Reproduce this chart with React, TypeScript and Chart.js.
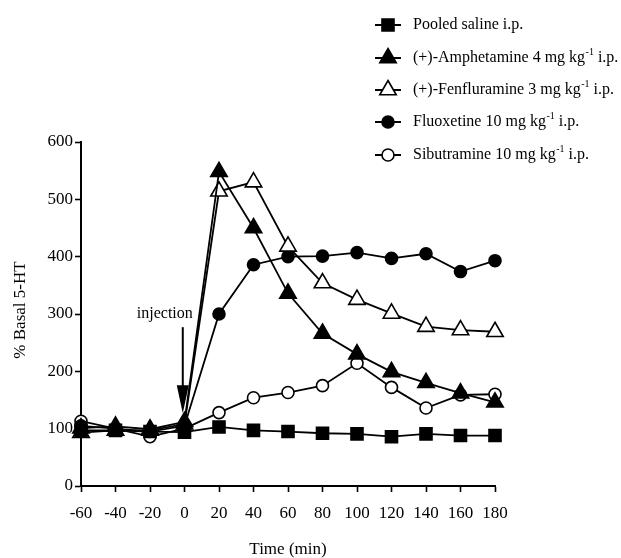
import React, { useEffect, useRef } from "react";
import { Chart, registerables } from "chart.js";

Chart.register(...registerables);

const times = [-60, -40, -20, 0, 20, 40, 60, 80, 100, 120, 140, 160, 180];
const saline = [97, 97, 95, 94, 103, 97, 95, 92, 91, 86, 91, 88, 88];
const amphetamine = [101, 104, 99, 112, 548, 450, 336, 266, 230, 199, 180, 162, 146];
const fenfluramine = [93, 97, 97, 108, 514, 530, 418, 354, 325, 301, 278, 272, 269];
const fluoxetine = [105, 100, 95, 105, 300, 386, 400, 401, 407, 397, 405, 374, 393];
const sibutramine = [113, 100, 86, 100, 128, 154, 163, 175, 214, 172, 136, 159, 160];

const seriesLabels = [
  "Pooled saline i.p.",
  "(+)-Amphetamine 4 mg kg^-1 i.p.",
  "(+)-Fenfluramine 3 mg kg^-1 i.p.",
  "Fluoxetine 10 mg kg^-1 i.p.",
  "Sibutramine 10 mg kg^-1 i.p.",
];
const xTitle = "Time (min)";
const yTitle = "% Basal 5-HT";
const injectionLabel = "injection";
const injectionTime = -1;
const arrowFrom = 277;
const arrowTo = 127;

const FONT = '"Liberation Serif", "Times New Roman", serif';

type Marker = { style: string; fill: boolean; r: number };
const markers: Marker[] = [
  { style: "rect", fill: true, r: 8.5 },
  { style: "triangle", fill: true, r: 9.5 },
  { style: "triangle", fill: false, r: 9.5 },
  { style: "circle", fill: true, r: 6 },
  { style: "circle", fill: false, r: 6 },
];

function drawMarker(ctx: CanvasRenderingContext2D, m: Marker, x: number, y: number) {
  ctx.save();
  ctx.beginPath();
  if (m.style === "rect") {
    const s = Math.SQRT1_2 * m.r;
    ctx.rect(x - s, y - s, 2 * s, 2 * s);
  } else if (m.style === "triangle") {
    for (let i = 0; i < 3; i++) {
      const a = (i * 2 * Math.PI) / 3;
      const px = x + Math.sin(a) * m.r;
      const py = y - Math.cos(a) * m.r;
      if (i === 0) ctx.moveTo(px, py);
      else ctx.lineTo(px, py);
    }
    ctx.closePath();
  } else {
    ctx.arc(x, y, m.r, 0, Math.PI * 2);
  }
  ctx.fillStyle = m.fill ? "#000" : "#fff";
  ctx.fill();
  ctx.lineWidth = 1.6;
  ctx.strokeStyle = "#000";
  ctx.stroke();
  ctx.restore();
}

const annotationPlugin = {
  id: "annotations",
  afterDraw(chart: any) {
    const ctx: CanvasRenderingContext2D = chart.ctx;
    const xs = chart.scales.x;
    const ys = chart.scales.y;
    const area = chart.chartArea;
    ctx.save();
    ctx.fillStyle = "#000";
    ctx.strokeStyle = "#000";

    // injection arrow
    const ax = xs.getPixelForValue(injectionTime);
    const ay1 = ys.getPixelForValue(arrowFrom);
    const ay2 = ys.getPixelForValue(arrowTo);
    ctx.lineWidth = 2;
    ctx.beginPath();
    ctx.moveTo(ax, ay1);
    ctx.lineTo(ax, ay2 - 20);
    ctx.stroke();
    ctx.beginPath();
    ctx.moveTo(ax - 6, ay2 - 28);
    ctx.lineTo(ax + 6, ay2 - 28);
    ctx.lineTo(ax, ay2);
    ctx.closePath();
    ctx.fill();

    ctx.font = `16px ${FONT}`;
    ctx.textAlign = "right";
    ctx.textBaseline = "middle";
    ctx.fillText(injectionLabel, ax + 10, ay1 - 13);

    // axis titles
    ctx.font = `17px ${FONT}`;
    ctx.textAlign = "center";
    ctx.textBaseline = "middle";
    ctx.fillText(xTitle, (area.left + area.right) / 2, chart.height - 8);
    ctx.save();
    ctx.translate(21, (area.top + area.bottom) / 2 - 4);
    ctx.rotate(-Math.PI / 2);
    ctx.fillText(yTitle, 0, 0);
    ctx.restore();

    // legend
    const lx = 388;
    const textX = 413;
    const rowY = [25, 58, 90, 122, 155];
    seriesLabels.forEach((label, i) => {
      const y = rowY[i];
      ctx.lineWidth = 2;
      ctx.beginPath();
      ctx.moveTo(lx - 13, y);
      ctx.lineTo(lx + 13, y);
      ctx.stroke();
      drawMarker(ctx, markers[i], lx, y);
      ctx.fillStyle = "#000";
      ctx.textAlign = "left";
      ctx.textBaseline = "middle";
      const parts = label.split("^-1");
      ctx.font = `16px ${FONT}`;
      let x = textX;
      ctx.fillText(parts[0], x, y);
      x += ctx.measureText(parts[0]).width;
      if (parts.length > 1) {
        ctx.font = `10px ${FONT}`;
        ctx.fillText("-1", x + 0.5, y - 6);
        x += ctx.measureText("-1").width + 0.5;
        ctx.font = `16px ${FONT}`;
        ctx.fillText(parts[1], x, y);
      }
    });
    ctx.restore();
  },
};

function makeDataset(label: string, data: number[], m: Marker) {
  return {
    label,
    data: times.map((t, i) => ({ x: t, y: data[i] })),
    borderColor: "#000",
    borderWidth: 1.8,
    backgroundColor: m.fill ? "#000" : "#fff",
    pointBackgroundColor: m.fill ? "#000" : "#fff",
    pointBorderColor: "#000",
    pointBorderWidth: 1.6,
    pointStyle: m.style,
    pointRadius: m.r,
    pointHoverRadius: m.r,
    tension: 0,
    fill: false,
    clip: false as any,
  };
}

export default function App() {
  const ref = useRef<HTMLCanvasElement | null>(null);
  useEffect(() => {
    if (!ref.current) return;
    const seriesData = [saline, amphetamine, fenfluramine, fluoxetine, sibutramine];
    const chart = new Chart(ref.current, {
      type: "line",
      data: {
        datasets: seriesData.map((d, i) => makeDataset(seriesLabels[i], d, markers[i])),
      },
      options: {
        animation: false,
        responsive: false,
        maintainAspectRatio: false,
        devicePixelRatio: 1,
        layout: { padding: { left: 0, right: 126, top: 142, bottom: 0 } },
        plugins: {
          legend: { display: false },
          tooltip: { enabled: false },
          title: { display: false },
        },
        scales: {
          x: {
            type: "linear",
            min: -60,
            max: 180,
            afterFit: (s: any) => {
              s.height = 72;
            },
            ticks: {
              stepSize: 20,
              color: "#000",
              font: { family: FONT, size: 17 },
              padding: 11,
              maxRotation: 0,
            },
            grid: {
              display: true,
              drawOnChartArea: false,
              drawTicks: true,
              tickLength: 6,
              tickColor: "#000",
              tickWidth: 1.6,
            },
            border: { display: true, color: "#000", width: 2 },
          },
          y: {
            type: "linear",
            min: 0,
            max: 600,
            afterFit: (s: any) => {
              s.width = 81;
            },
            ticks: {
              stepSize: 100,
              color: "#000",
              font: { family: FONT, size: 17 },
              padding: 2,
            },
            grid: {
              display: true,
              drawOnChartArea: false,
              drawTicks: true,
              tickLength: 6,
              tickColor: "#000",
              tickWidth: 1.6,
            },
            border: { display: true, color: "#000", width: 2 },
          },
        },
      } as any,
      plugins: [annotationPlugin],
    });
    return () => chart.destroy();
  }, []);
  return (
    <div style={{ position: "fixed", left: 0, top: 0, width: 621, height: 558, background: "#fff" }}>
      <canvas ref={ref} width={621} height={558} style={{ width: 621, height: 558, display: "block" }} />
    </div>
  );
}
